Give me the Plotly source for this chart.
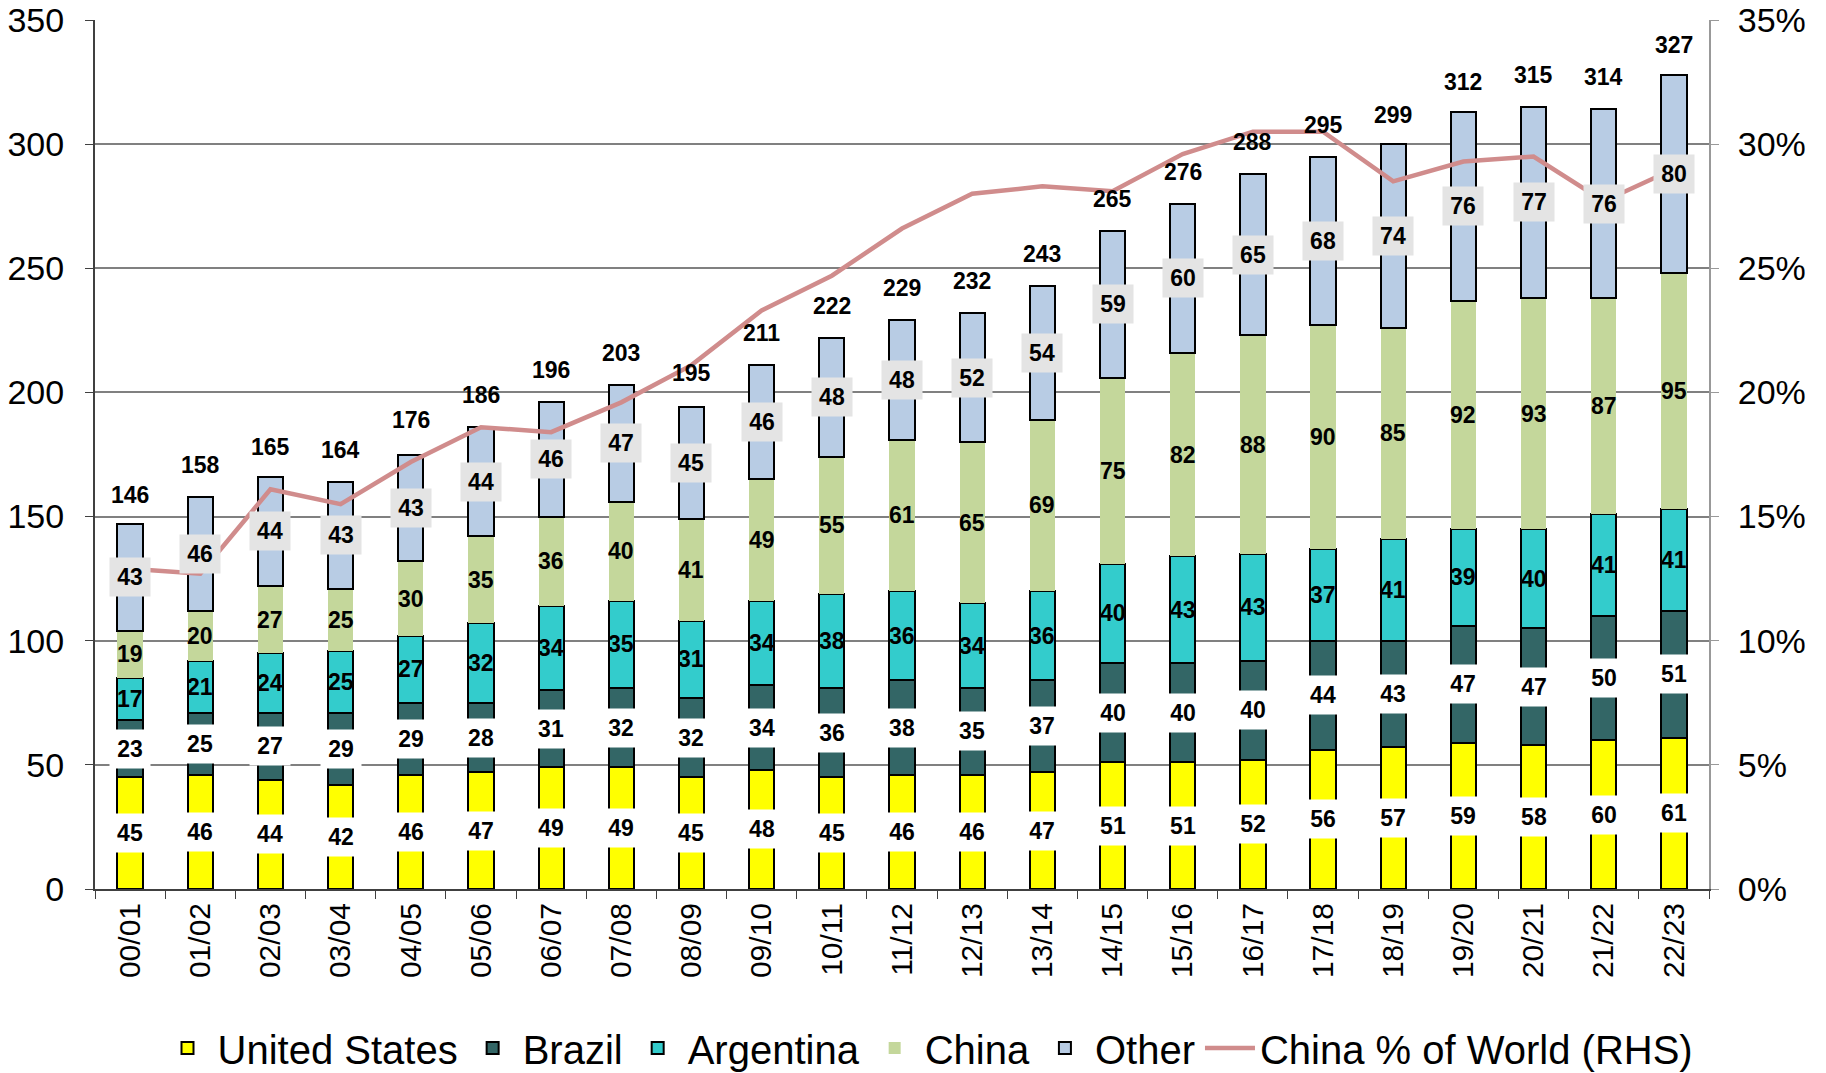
import numpy as np
import plotly.graph_objects as go

seasons = ["00/01","01/02","02/03","03/04","04/05","05/06","06/07","07/08","08/09","09/10",
           "10/11","11/12","12/13","13/14","14/15","15/16","16/17","17/18","18/19","19/20",
           "20/21","21/22","22/23"]
us = [45,46,44,42,46,47,49,49,45,48,45,46,46,47,51,51,52,56,57,59,58,60,61]
brazil = [23,25,27,29,29,28,31,32,32,34,36,38,35,37,40,40,40,44,43,47,47,50,51]
argentina = [17,21,24,25,27,32,34,35,31,34,38,36,34,36,40,43,43,37,41,39,40,41,41]
china = [19,20,27,25,30,35,36,40,41,49,55,61,65,69,75,82,88,90,85,92,93,87,95]
other = [43,46,44,43,43,44,46,47,45,46,48,48,52,54,59,60,65,68,74,76,77,76,80]
totals = [146,158,165,164,176,186,196,203,195,211,222,229,232,243,265,276,288,295,299,312,315,314,327]
china_share = [12.9,12.7,16.1,15.5,17.2,18.6,18.4,19.6,21.1,23.3,24.7,26.6,28.0,28.3,28.1,
               29.6,30.5,30.5,28.5,29.3,29.5,27.7,29.0]

FONT = "Liberation Sans, Arial, sans-serif"

series = [
    ("United States", us, "#ffff00", True, "#ffffff"),
    ("Brazil", brazil, "#336666", True, "#ffffff"),
    ("Argentina", argentina, "#33cccc", True, None),
    ("China", china, "#c4d79b", False, None),
    ("Other", other, "#b8cce4", True, "#e4e4e4"),
]

fig = go.Figure()
base = np.zeros(len(seasons))
annotations = []
for name, vals, col, outline, lblbg in series:
    vals = np.array(vals, dtype=float)
    fig.add_trace(go.Bar(
        x=seasons, y=vals, name=name, marker_color=col,
        marker_line=dict(color="black", width=2 if outline else 0),
        width=0.36,
    ))
    mids = base + vals / 2
    for s, v, m in zip(seasons, vals, mids):
        ann = dict(x=s, y=m, xref="x", yref="y", text=f"<b>{int(v)}</b>",
                   showarrow=False, font=dict(family=FONT, size=23, color="black"),
                   xanchor="center", yanchor="middle")
        if lblbg:
            ann.update(bgcolor=lblbg, width=34, height=32, borderpad=3)
        annotations.append(ann)
    base = base + vals

for s, t in zip(seasons, totals):
    annotations.append(dict(x=s, y=t, xref="x", yref="y", text=f"<b>{t}</b>",
                            showarrow=False, font=dict(family=FONT, size=23, color="black"),
                            xanchor="center", yanchor="bottom", yshift=17))

fig.add_trace(go.Scatter(
    x=seasons, y=np.array(china_share) / 100, name="China % of World (RHS)",
    mode="lines", line=dict(color="#d08c8c", width=4.5), yaxis="y2",
))

fig.update_layout(
    width=1826, height=1073,
    margin=dict(l=95, r=117, t=20, b=184, autoexpand=False),
    paper_bgcolor="white", plot_bgcolor="white",
    barmode="stack", bargap=0.5,
    font=dict(family=FONT, color="black"),
    annotations=annotations,
    showlegend=True,
    legend=dict(orientation="h", x=(928 - 95) / (1709 - 95), xanchor="center",
                y=-(1048 - 889) / 869, yanchor="middle",
                font=dict(family=FONT, size=40), itemwidth=50, traceorder="normal"),
    xaxis=dict(type="category", tickangle=-90, tickfont=dict(size=30, family=FONT),
               showline=True, linecolor="#404040", linewidth=2,
               ticks="outside", tickson="boundaries", ticklen=8, tickcolor="#404040",
               showgrid=False),
    yaxis=dict(range=[0, 350], tickvals=[0,50,100,150,200,250,300,350],
               tickfont=dict(size=34, family=FONT), showline=True, linecolor="#404040",
               linewidth=2, ticks="outside", ticklen=8, tickcolor="#404040",
               ticklabelstandoff=14,
               showgrid=True, gridcolor="#808080", gridwidth=1.5, zeroline=False),
    yaxis2=dict(overlaying="y", side="right", range=[0, 0.35],
                tickvals=[0,0.05,0.10,0.15,0.20,0.25,0.30,0.35], tickformat=".0%",
                tickfont=dict(size=34, family=FONT), showline=True, linecolor="#999999",
                linewidth=2, ticks="outside", ticklen=8, tickcolor="#999999",
                ticklabelstandoff=12,
                showgrid=False, zeroline=False),
)

fig.write_html("out.html")
